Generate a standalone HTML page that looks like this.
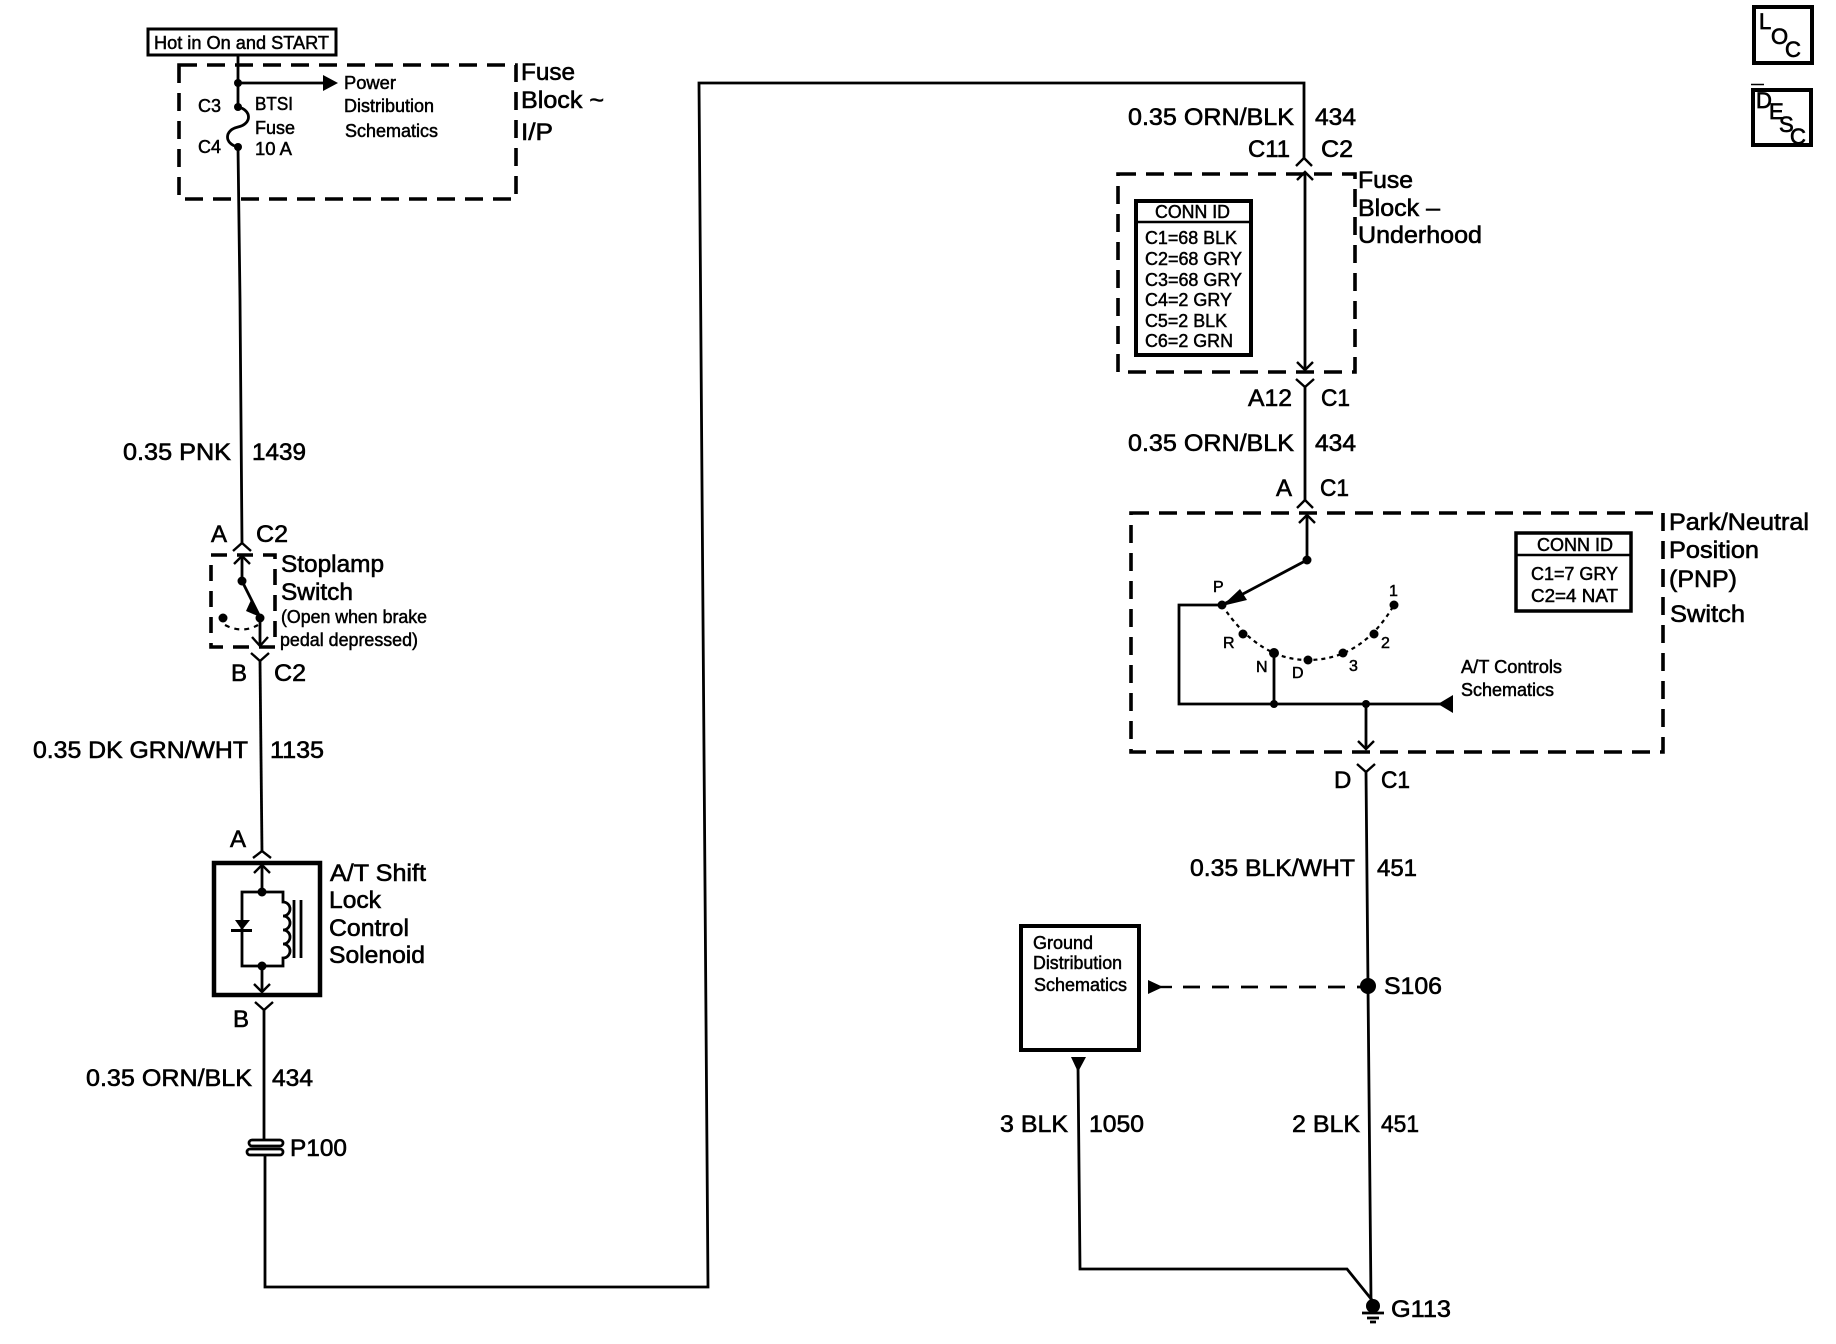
<!DOCTYPE html>
<html><head><meta charset="utf-8"><style>
html,body{margin:0;padding:0;background:#fff}
svg{display:block}
text{font-family:"Liberation Sans",Arial,sans-serif;fill:#000}
.b{font-size:24px;stroke:#000;stroke-width:.6}
.s{font-size:18px;stroke:#000;stroke-width:.5}
.x{font-size:16px;stroke:#000;stroke-width:.5}
.l{font-size:22px;stroke:#000;stroke-width:.7}
.w{fill:none;stroke:#000;stroke-width:2.8}
.t{fill:none;stroke:#000;stroke-width:2.4}
.d{fill:none;stroke:#000;stroke-width:3.6;stroke-dasharray:18 10}
.k{fill:none;stroke:#000;stroke-width:4.5}
</style></head><body>
<svg width="1836" height="1344" viewBox="0 0 1836 1344" xmlns="http://www.w3.org/2000/svg">
<rect width="1836" height="1344" fill="#fff"/>

<!-- top-left fuse block -->
<rect x="148" y="29" width="188" height="26" fill="none" stroke="#000" stroke-width="3"/>
<text class="s" x="154" y="49" textLength="175" lengthAdjust="spacingAndGlyphs">Hot in On and START</text>
<rect class="d" x="179" y="65" width="337" height="134"/>
<path class="w" d="M238 56V107M238 83H325M238 147L240 300L242 543"/>
<path d="M323 75l15 8l-15 8z"/>
<circle cx="238" cy="83" r="4"/><circle cx="238" cy="107" r="4"/><circle cx="238" cy="147" r="4"/>
<path class="w" d="M238 107C252 110 252 124 238 127C224 130 224 144 238 147"/>
<text class="s" x="198" y="112">C3</text><text class="s" x="198" y="153">C4</text>
<text class="s" x="255" y="110" textLength="38" lengthAdjust="spacingAndGlyphs">BTSI</text>
<text class="s" x="255" y="134" textLength="40" lengthAdjust="spacingAndGlyphs">Fuse</text>
<text class="s" x="255" y="155" textLength="37" lengthAdjust="spacingAndGlyphs">10 A</text>
<text class="s" x="344" y="89" textLength="52" lengthAdjust="spacingAndGlyphs">Power</text>
<text class="s" x="344" y="112" textLength="90" lengthAdjust="spacingAndGlyphs">Distribution</text>
<text class="s" x="345" y="137" textLength="93" lengthAdjust="spacingAndGlyphs">Schematics</text>
<text class="b" x="521" y="80" textLength="54" lengthAdjust="spacingAndGlyphs">Fuse</text>
<text class="b" x="521" y="108" textLength="83" lengthAdjust="spacingAndGlyphs">Block ~</text>
<text class="b" x="521" y="140" textLength="32" lengthAdjust="spacingAndGlyphs">I/P</text>

<text class="b" x="123" y="460" textLength="108" lengthAdjust="spacingAndGlyphs">0.35 PNK</text>
<text class="b" x="252" y="460" textLength="54" lengthAdjust="spacingAndGlyphs">1439</text>

<!-- stoplamp -->
<text class="b" x="211" y="542">A</text><text class="b" x="256" y="542" textLength="32" lengthAdjust="spacingAndGlyphs">C2</text>
<path class="t" d="M233 551L242 543L251 551"/>
<rect class="d" x="211" y="555" width="64" height="92" style="stroke-dasharray:16 10"/>
<path class="t" d="M234 564L242 556L250 564"/>
<path class="w" d="M242 556V581L260 617V645"/>
<path class="t" d="M252 637L260 646L268 637"/>
<path d="M251 600l9 17l-14-6z"/>
<circle cx="242" cy="581" r="4.5"/><circle cx="260" cy="618" r="4.5"/><circle cx="223" cy="618" r="4.5"/>
<path fill="none" stroke="#000" stroke-width="2.2" stroke-dasharray="5 5" d="M225 625Q242 634 258 625"/>
<text class="b" x="281" y="572" textLength="103" lengthAdjust="spacingAndGlyphs">Stoplamp</text>
<text class="b" x="281" y="600" textLength="72" lengthAdjust="spacingAndGlyphs">Switch</text>
<text class="s" x="281" y="623" textLength="146" lengthAdjust="spacingAndGlyphs">(Open when brake</text>
<text class="s" x="280" y="646" textLength="138" lengthAdjust="spacingAndGlyphs">pedal depressed)</text>
<path class="t" d="M251 653L260 661L269 653"/>
<path class="w" d="M260 661L262 852"/>
<text class="b" x="231" y="681">B</text><text class="b" x="274" y="681" textLength="32" lengthAdjust="spacingAndGlyphs">C2</text>
<text class="b" x="33" y="758" textLength="215" lengthAdjust="spacingAndGlyphs">0.35 DK GRN/WHT</text>
<text class="b" x="270" y="758" textLength="54" lengthAdjust="spacingAndGlyphs">1135</text>

<!-- solenoid -->
<text class="b" x="230" y="847">A</text>
<path class="t" d="M253 858L262 851L271 858"/>
<rect class="k" x="214" y="863" width="106" height="132"/>
<path class="t" d="M254 873L262 865L270 873M254 984L262 992L270 984"/>
<path class="w" d="M262 865V892M262 966V992M262 892H242V966H283V958A7 7 0 0 0 283 944A7 7 0 0 0 283 930A7 7 0 0 0 283 916A7 7 0 0 0 283 902V892H262"/>
<circle cx="262" cy="892" r="4.5"/><circle cx="262" cy="966" r="4.5"/>
<path d="M235 920H250L242 930z"/><rect x="231" y="929" width="21" height="3"/>
<path class="w" d="M294 900V958M301 900V958"/>
<text class="b" x="330" y="881" textLength="96" lengthAdjust="spacingAndGlyphs">A/T Shift</text>
<text class="b" x="329" y="908" textLength="52" lengthAdjust="spacingAndGlyphs">Lock</text>
<text class="b" x="329" y="936" textLength="80" lengthAdjust="spacingAndGlyphs">Control</text>
<text class="b" x="329" y="963" textLength="96" lengthAdjust="spacingAndGlyphs">Solenoid</text>
<text class="b" x="233" y="1027">B</text>
<path class="t" d="M255 1002L264 1010L273 1002"/>
<path class="w" d="M264 1010V1140M265 1155V1287H708L699 83H1304V158"/>
<text class="b" x="86" y="1086" textLength="166" lengthAdjust="spacingAndGlyphs">0.35 ORN/BLK</text>
<text class="b" x="272" y="1086" textLength="41" lengthAdjust="spacingAndGlyphs">434</text>
<rect x="249" y="1140" width="34" height="6" rx="3" fill="none" stroke="#000" stroke-width="2.8"/>
<rect x="247" y="1149" width="36" height="6" rx="3" fill="none" stroke="#000" stroke-width="2.8"/>
<text class="b" x="290" y="1156" textLength="57" lengthAdjust="spacingAndGlyphs">P100</text>

<!-- underhood -->
<text class="b" x="1128" y="125" textLength="166" lengthAdjust="spacingAndGlyphs">0.35 ORN/BLK</text>
<text class="b" x="1315" y="125" textLength="41" lengthAdjust="spacingAndGlyphs">434</text>
<text class="b" x="1248" y="157" textLength="42" lengthAdjust="spacingAndGlyphs">C11</text>
<text class="b" x="1321" y="157" textLength="32" lengthAdjust="spacingAndGlyphs">C2</text>
<path class="t" d="M1296 166L1304 158L1312 166"/>
<rect class="d" x="1118" y="174" width="237" height="198"/>
<path class="w" d="M1305 172V370"/>
<path class="t" d="M1297 180L1305 172L1313 180M1297 362L1305 370L1313 362"/>
<rect x="1136" y="201" width="115" height="154" fill="#fff" stroke="#000" stroke-width="4"/>
<path class="t" d="M1136 222H1251"/>
<text class="s" x="1155" y="218" textLength="75" lengthAdjust="spacingAndGlyphs">CONN ID</text>
<text class="s" x="1145" y="244" textLength="92" lengthAdjust="spacingAndGlyphs">C1=68 BLK</text>
<text class="s" x="1145" y="265" textLength="97" lengthAdjust="spacingAndGlyphs">C2=68 GRY</text>
<text class="s" x="1145" y="286" textLength="97" lengthAdjust="spacingAndGlyphs">C3=68 GRY</text>
<text class="s" x="1145" y="306" textLength="87" lengthAdjust="spacingAndGlyphs">C4=2 GRY</text>
<text class="s" x="1145" y="327" textLength="82" lengthAdjust="spacingAndGlyphs">C5=2 BLK</text>
<text class="s" x="1145" y="347" textLength="88" lengthAdjust="spacingAndGlyphs">C6=2 GRN</text>
<text class="b" x="1358" y="188" textLength="55" lengthAdjust="spacingAndGlyphs">Fuse</text>
<text class="b" x="1358" y="216" textLength="82" lengthAdjust="spacingAndGlyphs">Block –</text>
<text class="b" x="1358" y="243" textLength="124" lengthAdjust="spacingAndGlyphs">Underhood</text>
<path class="t" d="M1296 379L1305 387L1314 379"/>
<path class="w" d="M1305 387V500"/>
<text class="b" x="1248" y="406" textLength="44" lengthAdjust="spacingAndGlyphs">A12</text>
<text class="b" x="1321" y="406" textLength="29" lengthAdjust="spacingAndGlyphs">C1</text>
<text class="b" x="1128" y="451" textLength="166" lengthAdjust="spacingAndGlyphs">0.35 ORN/BLK</text>
<text class="b" x="1315" y="451" textLength="41" lengthAdjust="spacingAndGlyphs">434</text>
<text class="b" x="1276" y="496">A</text>
<text class="b" x="1320" y="496" textLength="29" lengthAdjust="spacingAndGlyphs">C1</text>
<path class="t" d="M1297 508L1305 500L1313 508"/>

<!-- PNP switch -->
<rect class="d" x="1131" y="513" width="532" height="239"/>
<path class="w" d="M1307 515V560"/>
<path class="t" d="M1299 523L1307 515L1315 523"/>
<path class="w" d="M1307 560L1224 604"/>
<path d="M1222 606L1240 589L1247 600z"/>
<path class="w" d="M1222 605H1179V704H1445M1274 653V704M1366 704V749"/>
<path class="t" d="M1358 741L1366 749L1374 741"/>
<path d="M1438 704L1453 695V713z"/>
<path fill="none" stroke="#000" stroke-width="2.2" stroke-dasharray="4 4" d="M1222 605Q1258 660 1308 660Q1362 660 1394 605"/>
<g>
<circle cx="1307" cy="560" r="4.5"/><circle cx="1222" cy="605" r="4.5"/><circle cx="1243" cy="634" r="4.5"/><circle cx="1274" cy="653" r="5"/><circle cx="1308" cy="660" r="4.5"/><circle cx="1343" cy="653" r="4.5"/><circle cx="1374" cy="634" r="4.5"/><circle cx="1394" cy="605" r="4.5"/><circle cx="1274" cy="704" r="4"/><circle cx="1366" cy="704" r="4"/>
</g>
<text class="x" x="1213" y="592">P</text><text class="x" x="1223" y="648">R</text><text class="x" x="1256" y="672">N</text><text class="x" x="1292" y="678">D</text><text class="x" x="1349" y="671">3</text><text class="x" x="1381" y="648">2</text><text class="x" x="1389" y="596">1</text>
<text class="s" x="1461" y="673" textLength="101" lengthAdjust="spacingAndGlyphs">A/T Controls</text>
<text class="s" x="1461" y="696" textLength="93" lengthAdjust="spacingAndGlyphs">Schematics</text>
<rect x="1516" y="533" width="115" height="78" fill="#fff" stroke="#000" stroke-width="3.5"/>
<path class="t" d="M1516 555H1631"/>
<text class="s" x="1537" y="551" textLength="76" lengthAdjust="spacingAndGlyphs">CONN ID</text>
<text class="s" x="1531" y="580" textLength="87" lengthAdjust="spacingAndGlyphs">C1=7 GRY</text>
<text class="s" x="1531" y="602" textLength="87" lengthAdjust="spacingAndGlyphs">C2=4 NAT</text>
<text class="b" x="1669" y="530" textLength="140" lengthAdjust="spacingAndGlyphs">Park/Neutral</text>
<text class="b" x="1669" y="558" textLength="90" lengthAdjust="spacingAndGlyphs">Position</text>
<text class="b" x="1669" y="587" textLength="68" lengthAdjust="spacingAndGlyphs">(PNP)</text>
<text class="b" x="1670" y="622" textLength="75" lengthAdjust="spacingAndGlyphs">Switch</text>

<path class="t" d="M1357 764L1366 772L1375 764"/>
<text class="b" x="1334" y="788">D</text>
<text class="b" x="1381" y="788" textLength="29" lengthAdjust="spacingAndGlyphs">C1</text>
<path class="w" d="M1366 772L1368 986L1371 1300"/>
<text class="b" x="1190" y="876" textLength="165" lengthAdjust="spacingAndGlyphs">0.35 BLK/WHT</text>
<text class="b" x="1377" y="876" textLength="40" lengthAdjust="spacingAndGlyphs">451</text>

<!-- ground -->
<rect class="k" x="1021" y="926" width="118" height="124" style="stroke-width:4"/>
<text class="s" x="1033" y="949" textLength="60" lengthAdjust="spacingAndGlyphs">Ground</text>
<text class="s" x="1033" y="969" textLength="89" lengthAdjust="spacingAndGlyphs">Distribution</text>
<text class="s" x="1034" y="991" textLength="93" lengthAdjust="spacingAndGlyphs">Schematics</text>
<path d="M1148 980L1163 987L1148 994z"/>
<path class="t" d="M1160 987H1172"/>
<path fill="none" stroke="#000" stroke-width="2.8" stroke-dasharray="17 12" d="M1183 987H1368"/>
<circle cx="1368" cy="986" r="8"/>
<text class="b" x="1384" y="994" textLength="58" lengthAdjust="spacingAndGlyphs">S106</text>
<path d="M1071 1057H1086L1078 1072z"/>
<path class="w" d="M1078 1065L1080 1269H1347L1372 1300"/>
<text class="b" x="1000" y="1132" textLength="68" lengthAdjust="spacingAndGlyphs">3 BLK</text>
<text class="b" x="1089" y="1132" textLength="55" lengthAdjust="spacingAndGlyphs">1050</text>
<text class="b" x="1292" y="1132" textLength="68" lengthAdjust="spacingAndGlyphs">2 BLK</text>
<text class="b" x="1381" y="1132" textLength="38" lengthAdjust="spacingAndGlyphs">451</text>
<circle cx="1373" cy="1306" r="7"/>
<path class="w" d="M1362 1313H1384M1367 1318H1379M1370 1322H1376"/>
<text class="b" x="1391" y="1317" textLength="60" lengthAdjust="spacingAndGlyphs">G113</text>

<!-- LOC / DESC -->
<rect x="1754" y="7" width="58" height="56" fill="none" stroke="#000" stroke-width="4"/>
<text class="l" x="1759" y="29">L</text><text class="l" x="1771" y="44">O</text><text class="l" x="1785" y="57">C</text>
<rect x="1753" y="90" width="58" height="55" fill="none" stroke="#000" stroke-width="4"/>
<path d="M1751 84.500H1764" stroke="#000" stroke-width="1.500"/>
<text class="l" x="1756" y="108">D</text><text class="l" x="1769" y="119">E</text><text class="l" x="1779" y="132">S</text><text class="l" x="1790" y="144">C</text>
</svg>
</body></html>
